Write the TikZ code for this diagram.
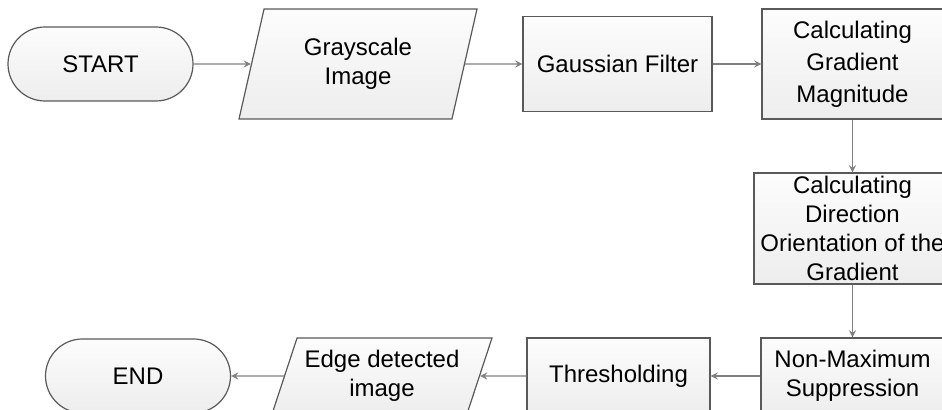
\documentclass[tikz,border=0pt]{standalone}
\usepackage{fontspec}
\setmainfont{Liberation Sans}
\usepackage{tikz}
\usetikzlibrary{arrows}
\usetikzlibrary{shapes.geometric}

\begin{document}
\begin{tikzpicture}[x=0.5pt,y=-0.5pt,
    box/.style={draw=black!65, line width=0.6pt, top color=gray!2, bottom color=gray!14,
      align=center, inner sep=0pt, font=\fontsize{12}{14.5}\selectfont},
    terminal/.style={box, rectangle, rounded corners=18.5pt, minimum width=92.5pt, minimum height=37pt},
    io/.style={box, trapezium, trapezium left angle=64, trapezium right angle=116, trapezium stretches body},
    flow/.style={draw=black!50, line width=0.6pt, -stealth}]
  \useasboundingbox (0,0) rectangle (942,410);
  \clip (0,0) rectangle (942,410);
  % top row
  \node[terminal] (start) at (100.5,64) {START};
  \node[io, minimum width=119pt, minimum height=55pt] (gray) at (358,64) {Grayscale\\Image};
  \node[box, minimum width=94.5pt, minimum height=47.5pt] (gauss) at (617.5,64) {Gaussian Filter};
  \node[box, minimum width=90.5pt, minimum height=55pt, font=\fontsize{12}{16}\selectfont] (gradmag) at (852.5,64) {Calculating\\Gradient\\Magnitude};
  % right column
  \node[box, minimum width=98.5pt, minimum height=55.5pt] (graddir) at (852.5,228.5) {Calculating\\Direction\\Orientation of the\\Gradient};
  \node[box, minimum width=91.5pt, minimum height=38pt] (nms) at (852.5,376) {Non-Maximum\\Suppression};
  % bottom row
  \node[box, minimum width=91.5pt, minimum height=38pt] (thresh) at (618.5,376) {Thresholding};
  \node[io, minimum width=110pt, minimum height=38pt] (edge) at (382,376) {Edge detected\\image};
  \node[terminal] (stop) at (138,376) {END};
  % connectors
  \draw[flow] (start) -- (gray);
  \draw[flow] (gray) -- (gauss);
  \draw[flow] (gauss) -- (gradmag);
  \draw[flow] (gradmag) -- (graddir);
  \draw[flow] (graddir) -- (nms);
  \draw[flow] (nms) -- (thresh);
  \draw[flow] (thresh) -- (edge);
  \draw[flow] (edge) -- (stop);
\end{tikzpicture}
\end{document}
